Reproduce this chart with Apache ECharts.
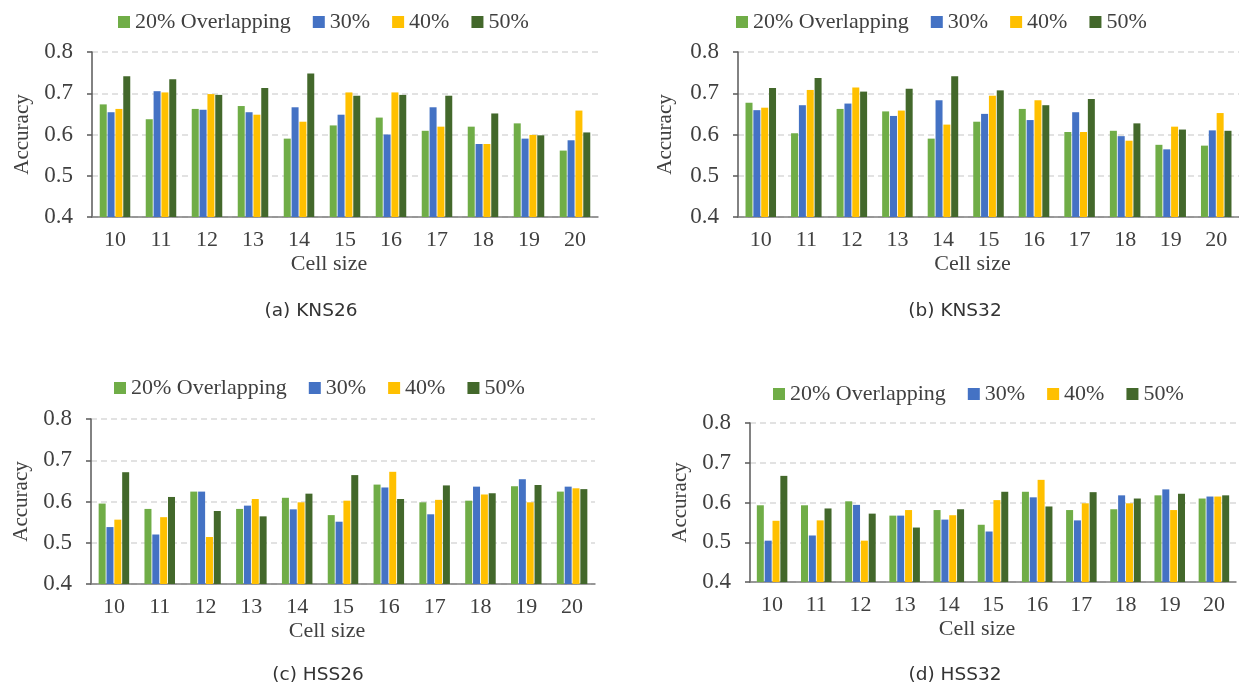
<!DOCTYPE html>
<html>
<head>
<meta charset="utf-8">
<script src="https://cdn.jsdelivr.net/npm/echarts@6/dist/echarts.min.js"></script>
<style>
  html, body { margin: 0; padding: 0; background: #fff; }
  #main { width: 1239px; height: 689px; }
</style>
</head>
<body>
<div id="main"></div>
<script>
// cell sizes on the x axis
var cellSizes = ['10', '11', '12', '13', '14', '15', '16', '17', '18', '19', '20'];
var seriesNames = ['20% Overlapping', '30%', '40%', '50%'];
var yTicks = [0.4, 0.5, 0.6, 0.7, 0.8];

// (a) KNS26
var kns26_20 = [0.673, 0.637, 0.662, 0.669, 0.590, 0.622, 0.641, 0.609, 0.619, 0.627, 0.561];
var kns26_30 = [0.654, 0.705, 0.660, 0.654, 0.666, 0.648, 0.600, 0.666, 0.577, 0.590, 0.586];
var kns26_40 = [0.662, 0.702, 0.698, 0.648, 0.631, 0.702, 0.702, 0.619, 0.577, 0.599, 0.658];
var kns26_50 = [0.741, 0.734, 0.696, 0.713, 0.748, 0.694, 0.696, 0.694, 0.651, 0.598, 0.605];

// (b) KNS32
var kns32_20 = [0.677, 0.603, 0.662, 0.656, 0.590, 0.631, 0.662, 0.606, 0.609, 0.575, 0.573];
var kns32_30 = [0.659, 0.671, 0.675, 0.645, 0.683, 0.650, 0.635, 0.654, 0.596, 0.564, 0.610];
var kns32_40 = [0.665, 0.708, 0.714, 0.658, 0.624, 0.694, 0.683, 0.606, 0.585, 0.619, 0.652];
var kns32_50 = [0.713, 0.737, 0.704, 0.711, 0.741, 0.707, 0.671, 0.686, 0.627, 0.612, 0.609];

// (c) HSS26
var hss26_20 = [0.595, 0.582, 0.624, 0.582, 0.609, 0.567, 0.641, 0.598, 0.602, 0.637, 0.624];
var hss26_30 = [0.538, 0.520, 0.624, 0.590, 0.581, 0.551, 0.634, 0.569, 0.636, 0.654, 0.636];
var hss26_40 = [0.556, 0.562, 0.514, 0.606, 0.598, 0.602, 0.672, 0.604, 0.617, 0.598, 0.632];
var hss26_50 = [0.671, 0.611, 0.577, 0.564, 0.619, 0.664, 0.606, 0.639, 0.620, 0.640, 0.630];

// (d) HSS32
var hss32_20 = [0.593, 0.593, 0.603, 0.567, 0.581, 0.544, 0.627, 0.581, 0.583, 0.618, 0.610];
var hss32_30 = [0.504, 0.517, 0.594, 0.567, 0.557, 0.527, 0.613, 0.555, 0.618, 0.633, 0.615];
var hss32_40 = [0.554, 0.555, 0.504, 0.581, 0.568, 0.606, 0.657, 0.598, 0.598, 0.581, 0.615];
var hss32_50 = [0.667, 0.585, 0.572, 0.537, 0.583, 0.627, 0.590, 0.626, 0.610, 0.622, 0.618];

var panelData = [
  [kns26_20, kns26_30, kns26_40, kns26_50],
  [kns32_20, kns32_30, kns32_40, kns32_50],
  [hss26_20, hss26_30, hss26_40, hss26_50],
  [hss32_20, hss32_30, hss32_40, hss32_50]
];
var captions = ['(a) KNS26', '(b) KNS32', '(c) HSS26', '(d) HSS32'];

var colors = ['#70ad47', '#4472c4', '#ffc000', '#43682b'];
var serif = '"Liberation Serif", "Times New Roman", serif';
var txt = '#404040';

// plot areas
var grids = [
  { left: 92, top: 52, width: 506, height: 165 },
  { left: 738, top: 52, width: 503, height: 165 },
  { left: 91, top: 419, width: 504, height: 165 },
  { left: 750, top: 423, width: 486, height: 159 }
];
var legendPos = [
  { left: 118, top: 11 },
  { left: 736, top: 11 },
  { left: 114, top: 377 },
  { left: 773, top: 383 }
];
var captionPos = [
  { left: 311, top: 302 },
  { left: 955, top: 302 },
  { left: 318, top: 666 },
  { left: 955, top: 666 }
];

var xAxes = [], yAxes = [], series = [], legends = [], titles = [];
grids.forEach(function (g, i) {
  xAxes.push({
    type: 'category',
    gridIndex: i,
    data: cellSizes,
    name: 'Cell size',
    nameLocation: 'middle',
    nameGap: 36,
    nameTextStyle: { fontFamily: serif, fontSize: 22, color: txt, padding: [0, 32, 0, 0] },
    axisLine: { lineStyle: { color: '#7f7f7f', width: 1.5 } },
    axisTick: { show: false },
    axisLabel: { fontFamily: serif, fontSize: 22, color: txt, margin: 12 }
  });
  yAxes.push({
    type: 'value',
    gridIndex: i,
    min: yTicks[0],
    max: yTicks[yTicks.length - 1],
    interval: 0.1,
    name: 'Accuracy',
    nameLocation: 'middle',
    nameGap: i == 1 ? 62 : 59,
    nameTextStyle: { fontFamily: serif, fontSize: 21, color: txt },
    axisLine: { show: true, lineStyle: { color: '#595959', width: 1.5 } },
    axisTick: { show: true, length: 5, lineStyle: { color: '#595959', width: 1.5 } },
    axisLabel: {
      fontFamily: serif, fontSize: 23, color: txt, margin: 19,
      formatter: function (v) { return v.toFixed(1); }
    },
    splitLine: { lineStyle: { color: '#d9d9d9', width: 1.5, type: [6, 4] } }
  });
  panelData[i].forEach(function (vals, k) {
    series.push({
      name: seriesNames[k],
      type: 'bar',
      xAxisIndex: i,
      yAxisIndex: i,
      data: vals,
      barWidth: 7,
      barGap: '12%',
      itemStyle: { color: colors[k] },
      animation: false
    });
  });
  legends.push({
    left: legendPos[i].left,
    top: legendPos[i].top,
    data: seriesNames,
    icon: 'rect',
    itemWidth: 12,
    itemHeight: 12,
    itemGap: 22,
    padding: 0,
    textStyle: { fontFamily: serif, fontSize: 22, color: txt, lineHeight: 22 }
  });
  titles.push({
    text: captions[i],
    left: captionPos[i].left,
    top: captionPos[i].top,
    textAlign: 'center',
    padding: 0,
    textStyle: { fontFamily: '"DejaVu Sans", sans-serif', fontSize: 18.5, fontWeight: 'normal', color: '#333' }
  });
});

var mychart = echarts.init(document.getElementById('main'));
mychart.setOption({
  backgroundColor: '#fff',
  color: colors,
  title: titles,
  legend: legends,
  grid: grids,
  xAxis: xAxes,
  yAxis: yAxes,
  series: series
});
</script>
</body>
</html>
